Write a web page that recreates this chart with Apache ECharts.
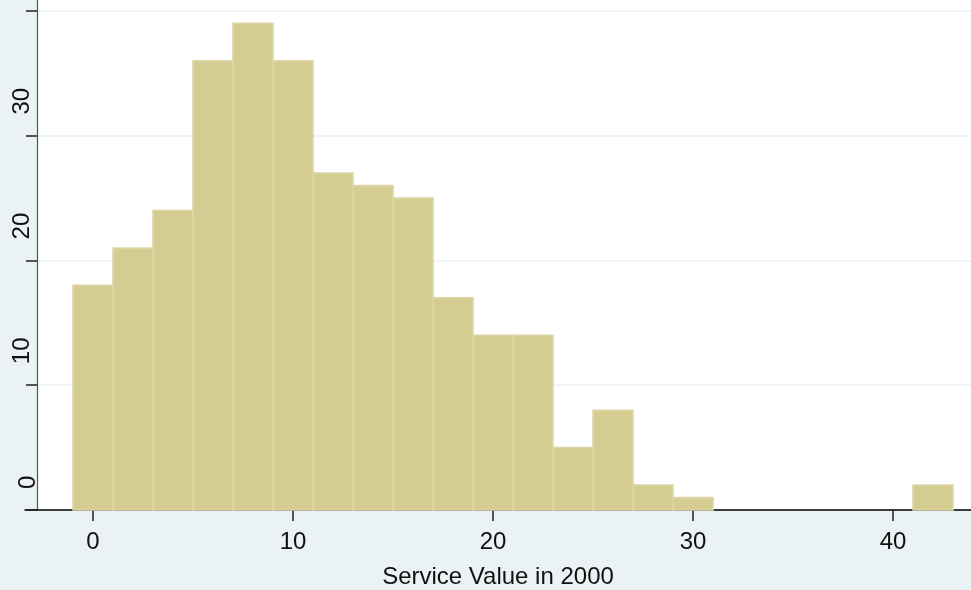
<!DOCTYPE html>
<html>
<head>
<meta charset="utf-8">
<script src="https://cdn.jsdelivr.net/npm/echarts@6/dist/echarts.min.js"></script>
<style>
  html, body { margin: 0; padding: 0; background: #EAF2F3; }
  #chart { width: 971px; height: 590px; }
</style>
</head>
<body>
<div id="chart"></div>
<script>
// Histogram of service values (bin width 2, bins centred on even numbers)
const binCenters = [0, 2, 4, 6, 8, 10, 12, 14, 16, 18, 20, 22, 24, 26, 28, 30, 32, 34, 36, 38, 40, 42];
const frequencies = [18, 21, 24, 36, 39, 36, 27, 26, 25, 17, 14, 14, 5, 8, 2, 1, 0, 0, 0, 0, 0, 2];
const binWidth = 2;
const xTickValues = [0, 10, 20, 30, 40];
const xAxisTitle = 'Service Value in 2000';

const chart = echarts.init(document.getElementById('chart'), null, { renderer: 'canvas' });

const barData = binCenters.map((c, i) => [c, frequencies[i]]);
const font = 'Liberation Sans, Arial, sans-serif';

const option = {
  backgroundColor: '#EAF2F3',
  animation: false,
  grid: [
    // white plot region, starting at the vertical axis
    { left: 37, right: 0, top: 0, bottom: 80, outerBoundsMode: 'none',
      show: true, backgroundColor: '#FFFFFF', borderWidth: 0 },
    // axes and bars
    { left: 25, right: 0, top: -114, bottom: 80, outerBoundsMode: 'none',
      show: false }
  ],
  xAxis: [
    { gridIndex: 0, type: 'value', show: false },
    {
      gridIndex: 1,
      type: 'value',
      min: -3.4, max: 43.9,
      axisLine: { show: true, onZero: false, lineStyle: { color: '#000000', width: 1.5 } },
      axisTick: { show: true, length: 11, customValues: xTickValues, lineStyle: { color: '#222222', width: 1.5 } },
      axisLabel: {
        customValues: xTickValues,
        margin: 20, fontSize: 24, color: '#111111', fontFamily: font
      },
      splitLine: { show: false },
      name: xAxisTitle,
      nameLocation: 'middle',
      nameGap: 55,
      nameTextStyle: { fontSize: 24, color: '#111111', fontFamily: font }
    }
  ],
  yAxis: [
    { gridIndex: 0, type: 'value', show: false, splitLine: { show: false } },
    {
      gridIndex: 1,
      type: 'value',
      min: 0, max: 50, interval: 10,
      offset: -12,
      axisLine: { show: true, onZero: false, lineStyle: { color: '#555555', width: 1.2 } },
      axisTick: { show: true, length: 11, lineStyle: { color: '#222222', width: 1.5 } },
      axisLabel: {
        rotate: 90,
        align: 'left',
        padding: [0, 0, 0, 21],
        margin: -3,
        fontSize: 24, color: '#111111', fontFamily: font,
        formatter: function (v) { return v === 0 ? '{z|0}' : '{n|' + v + '}'; },
        rich: {
          z: { fontSize: 24, fontFamily: font, color: '#111111', lineHeight: 24 },
          n: { fontSize: 24, fontFamily: font, color: '#111111', lineHeight: 36 }
        }
      },
      splitLine: { show: true, lineStyle: { color: '#EAF2F3', width: 1.5 } }
    }
  ],
  series: [{
    type: 'custom',
    xAxisIndex: 1,
    yAxisIndex: 1,
    data: barData,
    encode: { x: 0, y: 1 },
    renderItem: function (params, api) {
      const c = api.value(0);
      const v = api.value(1);
      if (!v) return null;
      const p0 = api.coord([c - binWidth / 2, v]);
      const p1 = api.coord([c + binWidth / 2, 0]);
      return {
        type: 'rect',
        shape: { x: p0[0], y: p0[1], width: p1[0] - p0[0], height: p1[1] - p0[1] },
        style: { fill: '#D4CC91', stroke: '#DDD6A6', lineWidth: 1.5 }
      };
    }
  }]
};

chart.setOption(option);
</script>
</body>
</html>
